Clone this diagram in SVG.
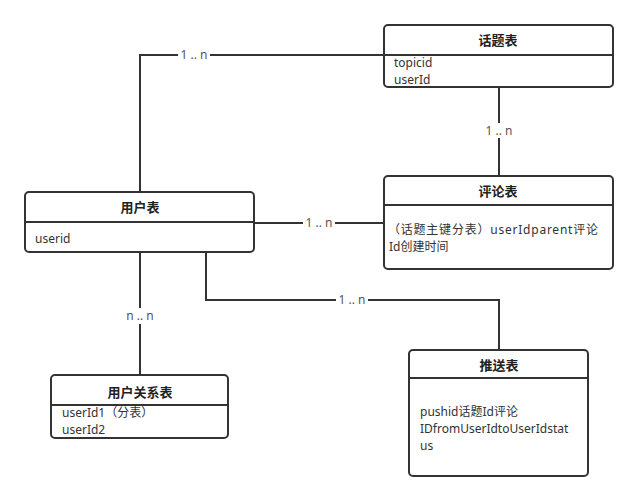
<svg xmlns="http://www.w3.org/2000/svg" width="639" height="500" viewBox="0 0 639 500">
<style>
.box{fill:#fff;stroke:#333;stroke-width:2}
.div{stroke:#333;stroke-width:2}
.hd{font-family:"Noto Sans","Noto Sans CJK SC",sans-serif;font-size:13px;font-weight:bold;fill:#222;text-anchor:middle}
.tx{font-family:"Noto Sans","Noto Sans CJK SC",sans-serif;font-size:12px;fill:#333}
.ln{fill:none;stroke:#333;stroke-width:2}
.lb{font-family:"Noto Sans","Noto Sans CJK SC",sans-serif;font-size:12px;fill:#555;text-anchor:middle}
.bg{fill:#fff}
</style>
<rect width="639" height="500" fill="#fff"/>
<g id="connectors">
<polyline class="ln" points="140,192 140,55 384,55"/>
<rect class="bg" x="178" y="48" width="32" height="14"/>
<text class="lb" x="194" y="59">1 .. n</text>
<line class="ln" x1="499" y1="87" x2="499" y2="176"/>
<rect class="bg" x="483" y="123" width="32" height="15"/>
<text class="lb" x="499" y="135">1 .. n</text>
<line class="ln" x1="254" y1="223" x2="384" y2="223"/>
<rect class="bg" x="303" y="216" width="32" height="14"/>
<text class="lb" x="319" y="227">1 .. n</text>
<line class="ln" x1="140" y1="252" x2="140" y2="375"/>
<rect class="bg" x="122" y="308" width="36" height="16"/>
<text class="lb" x="140" y="320">n .. n</text>
<polyline class="ln" points="206,252 206,300 499,300 499,350"/>
<rect class="bg" x="336" y="293" width="32" height="14"/>
<text class="lb" x="352" y="304">1 .. n</text>
</g>
<g id="topic">
<rect class="box" x="384" y="25" width="229" height="62" rx="4"/>
<line class="div" x1="384" y1="55" x2="613" y2="55"/>
<text class="hd" x="498" y="45">话题表</text>
<text class="tx" x="394" y="67">topicid</text>
<text class="tx" x="394" y="84">userId</text>
</g>
<g id="comment">
<rect class="box" x="384" y="176" width="229" height="93" rx="4"/>
<line class="div" x1="384" y1="205" x2="613" y2="205"/>
<text class="hd" x="498" y="196">评论表</text>
<text class="tx" x="388" y="234" textLength="210" lengthAdjust="spacing">（话题主键分表）userIdparent评论</text>
<text class="tx" x="389" y="251">Id创建时间</text>
</g>
<g id="user">
<rect class="box" x="25" y="192" width="229" height="60" rx="4"/>
<line class="div" x1="25" y1="222" x2="254" y2="222"/>
<text class="hd" x="140" y="212">用户表</text>
<text class="tx" x="35" y="243">userid</text>
</g>
<g id="userrel">
<rect class="box" x="51" y="375" width="177" height="63" rx="4"/>
<line class="div" x1="51" y1="405" x2="228" y2="405"/>
<text class="hd" x="140" y="397">用户关系表</text>
<text class="tx" x="62" y="417">userId1（分表）</text>
<text class="tx" x="62" y="434">userId2</text>
</g>
<g id="push">
<rect class="box" x="409" y="350" width="179" height="126" rx="4"/>
<line class="div" x1="409" y1="378" x2="588" y2="378"/>
<text class="hd" x="499" y="370">推送表</text>
<text class="tx" x="420" y="416">pushid话题Id评论</text>
<text class="tx" x="420" y="433">IDfromUserIdtoUserIdstat</text>
<text class="tx" x="420" y="450">us</text>
</g>
</svg>
